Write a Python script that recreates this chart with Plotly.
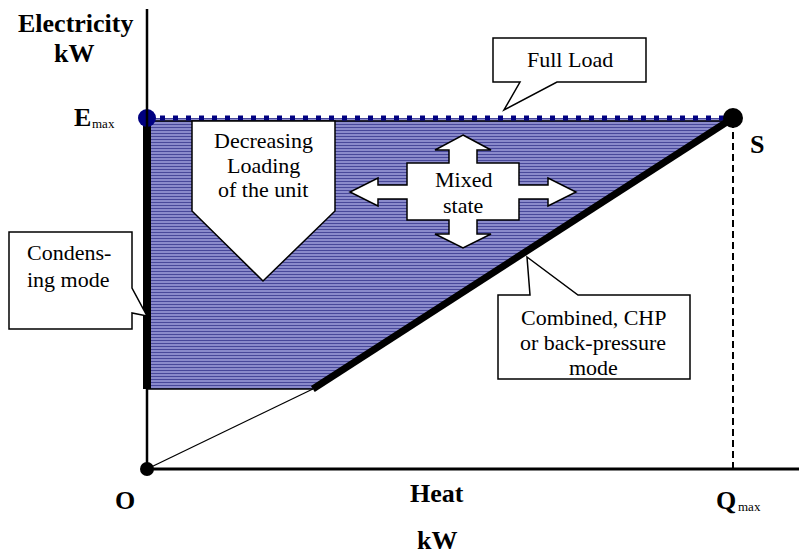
import plotly.graph_objects as go

# ---------------- data (diagram units, % of maximum) ----------------
Q_MAX = 100          # maximum heat output
E_MAX = 100          # maximum electricity output
E_MIN = 22.8         # minimum electric load (bottom of operating region)
Q_AT_EMIN = 28.3     # heat at minimum load on back-pressure line

region_heat = [0, Q_MAX, Q_AT_EMIN, 0, 0]
region_elec = [E_MAX, E_MAX, E_MIN, E_MIN, E_MAX]
full_load_heat = [0, Q_MAX]
full_load_elec = [E_MAX, E_MAX]
condensing_heat = [0, 0]
condensing_elec = [E_MIN, E_MAX]
backpressure_heat = [Q_AT_EMIN, Q_MAX]
backpressure_elec = [E_MIN, E_MAX]
origin_line_heat = [0, Q_AT_EMIN]
origin_line_elec = [0, E_MIN]
min_line_heat = [0, Q_AT_EMIN]
min_line_elec = [E_MIN, E_MIN]
qmax_heat = [Q_MAX, Q_MAX]
qmax_elec = [0, E_MAX]
point_names = ["O", "Emax", "S"]
point_heat = [0, 0, Q_MAX]
point_elec = [0, E_MAX, E_MAX]

# ---------------- layout geometry ----------------
W, H = 799, 560
OX, OY = 147, 469          # pixel of origin
SX = (733 - OX) / Q_MAX    # px per heat unit
SY = (OY - 118) / E_MAX    # px per elec unit
xr = [-OX / SX, (W - OX) / SX]
yr = [-(H - OY) / SY, OY / SY]

def P(px, py):
    return px / W, 1 - py / H

def path(pts):
    s = ""
    for i, (a, b) in enumerate(pts):
        x, y = P(a, b)
        s += ("M" if i == 0 else "L") + f"{x:.5f},{y:.5f} "
    return s + "Z"

SERIF = "Liberation Serif, Times New Roman, serif"

fig = go.Figure()

# operating region (striped fill)
fig.add_trace(go.Scatter(
    x=region_heat, y=region_elec, mode="none", fill="toself",
    fillcolor="#7a7ac4",
    fillpattern=dict(shape="-", bgcolor="#a0a0dc", fgcolor="#48489a",
                     size=3, solidity=0.5, fillmode="replace"),
    hoverinfo="skip", showlegend=False))

# thin line from origin and bottom of region
fig.add_trace(go.Scatter(x=origin_line_heat, y=origin_line_elec, mode="lines",
                         line=dict(color="black", width=1.3), showlegend=False))
fig.add_trace(go.Scatter(x=min_line_heat, y=min_line_elec, mode="lines",
                         line=dict(color="black", width=1.5), showlegend=False))
# Qmax dashed
fig.add_trace(go.Scatter(x=qmax_heat, y=qmax_elec, mode="lines",
                         line=dict(color="black", width=2, dash="7px,4px"),
                         showlegend=False))
# full load line: thin black + navy dotted
fig.add_trace(go.Scatter(x=full_load_heat, y=[v - 0.85 for v in full_load_elec],
                         mode="lines", line=dict(color="black", width=1.3),
                         showlegend=False))
fig.add_trace(go.Scatter(x=full_load_heat, y=full_load_elec, mode="lines",
                         line=dict(color="#000080", width=5, dash="5px,8px"),
                         showlegend=False))
# condensing mode thick line
fig.add_trace(go.Scatter(x=condensing_heat, y=condensing_elec, mode="lines",
                         line=dict(color="black", width=8), showlegend=False))
# back-pressure thick line
fig.add_trace(go.Scatter(x=backpressure_heat, y=backpressure_elec, mode="lines",
                         line=dict(color="black", width=7), showlegend=False))

# axes lines
fig.add_shape(type="line", xref="x", yref="y", x0=0, y0=0, x1=0, y1=yr[1] - 9 / SY,
              line=dict(color="black", width=2.5))
fig.add_shape(type="line", xref="x", yref="y", x0=0, y0=0, x1=xr[1], y1=0,
              line=dict(color="black", width=3))

# points
fig.add_trace(go.Scatter(x=point_heat, y=point_elec, mode="markers",
                         opacity=1,
                         marker=dict(size=[14, 18, 20], opacity=1,
                                     color=["#000000", "#000080", "#000000"],
                                     line=dict(width=0)),
                         text=point_names, hoverinfo="text", showlegend=False))

# ---------------- callouts ----------------
callouts = [
    # Full Load
    [(493, 38), (646, 38), (646, 82), (557, 82), (504, 110), (520, 82), (493, 82)],
    # Decreasing loading arrow
    [(192, 121), (335, 121), (335, 211), (263, 281), (192, 211)],
    # Mixed state cross arrow
    [(463, 135), (491, 150), (477, 150), (477, 163), (519, 163), (519, 185),
     (548, 185), (548, 178), (576, 192), (548, 206), (548, 199), (519, 199),
     (519, 220), (477, 220), (477, 234), (491, 234), (463, 248), (435, 234),
     (449, 234), (449, 220), (407, 220), (407, 199), (378, 199), (378, 206),
     (350, 192), (378, 178), (378, 185), (407, 185), (407, 163), (449, 163),
     (449, 150), (435, 150)],
    # Condensing mode
    [(9, 232), (132, 232), (132, 288), (147, 316), (132, 313), (132, 329), (9, 329)],
    # Combined CHP
    [(498, 295), (530, 295), (527, 257), (578, 295), (690, 295), (690, 379), (498, 379)],
]
for c in callouts:
    fig.add_shape(type="path", xref="paper", yref="paper", path=path(c),
                  fillcolor="white", line=dict(color="black", width=1.5),
                  layer="above")

def txt(s, px, py, size=22, anchor="center"):
    x, y = P(px, py)
    fig.add_annotation(x=x, y=y, xref="paper", yref="paper", text=s,
                       showarrow=False, xanchor=anchor, yanchor="middle",
                       font=dict(family=SERIF, size=size, color="black"))

# callout texts
txt("Full Load", 570, 60)
txt("Decreasing", 263, 140)
txt("Loading", 263, 165)
txt("of the unit", 263, 189)
txt("Mixed", 463, 180)
txt("state", 463, 205)
txt("Condens-", 25, 253, anchor="left")
txt("ing mode", 25, 279, anchor="left")
txt("Combined, CHP", 593, 317)
txt("or back-pressure", 593, 342)
txt("mode", 593, 367)

# axis labels
txt("<b>Electricity</b>", 76, 24, size=26)
txt("<b>kW</b>", 74, 53, size=26)
txt("<b>E</b>", 93, 117, size=26, anchor="right")
txt("max", 90, 123, size=13, anchor="left")
txt("<b>S</b>", 757, 144, size=26)
txt("<b>O</b>", 125, 500, size=26)
txt("<b>Heat</b>", 437, 493, size=26)
txt("<b>kW</b>", 437, 540, size=26)
txt("<b>Q</b>", 738, 500, size=26, anchor="right")
txt("max", 736, 506, size=13, anchor="left")

fig.update_layout(
    width=W, height=H, margin=dict(l=0, r=0, t=0, b=0),
    paper_bgcolor="white", plot_bgcolor="white",
    xaxis=dict(range=xr, visible=False, fixedrange=True),
    yaxis=dict(range=yr, visible=False, fixedrange=True),
    showlegend=False,
)

fig.write_html("out.html", config={"displayModeBar": False},
               post_script="document.body.style.margin='0';")
